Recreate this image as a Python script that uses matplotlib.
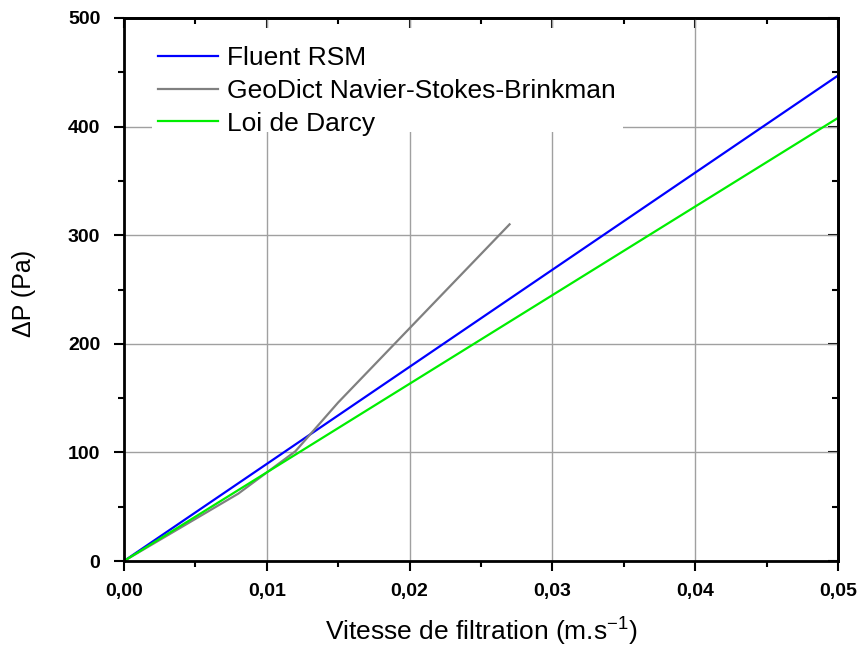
import matplotlib
matplotlib.use("Agg")
import matplotlib.pyplot as plt
from matplotlib.ticker import MultipleLocator, FuncFormatter
from matplotlib.patches import Rectangle

# Data
fluent_x = [0.0, 0.05]
fluent_y = [0.0, 447.0]
geodict_x = [0.0, 0.008, 0.012, 0.015, 0.027]
geodict_y = [0.0, 62.0, 101.0, 146.0, 310.0]
darcy_x = [0.0, 0.05]
darcy_y = [0.0, 408.0]
labels = ["Fluent RSM", "GeoDict Navier-Stokes-Brinkman", "Loi de Darcy"]

plt.rcParams["mathtext.default"] = "regular"

fig = plt.figure(figsize=(8.61, 6.52), dpi=100)
ax = fig.add_axes([124/861, 1-561/652, (838-124)/861, (561-18)/652])

ax.grid(True, which="major", color="#a0a0a0", linewidth=1.0, zorder=0)
ax.set_axisbelow(True)

# white legend background box (covers grid)
ax.add_patch(Rectangle((0.039, 0.79), 0.66, 0.192, transform=ax.transAxes,
                       facecolor="white", edgecolor="none", zorder=1.5))

l1, = ax.plot(fluent_x, fluent_y, color="#0000ff", lw=1.6, zorder=3)
l2, = ax.plot(geodict_x, geodict_y, color="#808080", lw=1.6, zorder=3)
l3, = ax.plot(darcy_x, darcy_y, color="#00ee00", lw=1.6, zorder=3)

ax.set_xlim(0, 0.05)
ax.set_ylim(0, 500)
ax.xaxis.set_major_locator(MultipleLocator(0.01))
ax.xaxis.set_minor_locator(MultipleLocator(0.005))
ax.yaxis.set_major_locator(MultipleLocator(100))
ax.yaxis.set_minor_locator(MultipleLocator(50))
ax.xaxis.set_major_formatter(FuncFormatter(lambda v, p: f"{v:.2f}".replace(".", ",")))
ax.yaxis.set_major_formatter(FuncFormatter(lambda v, p: f"{v:.0f}"))

for s in ax.spines.values():
    s.set_linewidth(2.0)
    s.set_zorder(4)

ax.tick_params(which="both", direction="out", top=False, right=False, width=1.5)
ax.tick_params(which="major", length=7)
ax.tick_params(which="minor", length=4)
axt = ax.secondary_xaxis("top")
axt.xaxis.set_major_locator(MultipleLocator(0.01))
axt.xaxis.set_minor_locator(MultipleLocator(0.005))
axt.tick_params(which="both", direction="in", labeltop=False, width=1.5)
axt.tick_params(which="major", length=7)
axt.tick_params(which="minor", length=4)
axr = ax.secondary_yaxis("right")
axr.yaxis.set_major_locator(MultipleLocator(100))
axr.yaxis.set_minor_locator(MultipleLocator(50))
axr.tick_params(which="both", direction="in", labelright=False, width=1.5)
axr.tick_params(which="major", length=7)
axr.tick_params(which="minor", length=4)
for a in (axt, axr):
    for s in a.spines.values():
        s.set_linewidth(2.0)

for t in ax.get_yticklabels() + ax.get_xticklabels():
    t.set_fontfamily(["Liberation Sans", "DejaVu Sans"])
    t.set_fontweight("bold")
    t.set_fontsize(14)
ax.tick_params(axis="x", pad=9)
ax.tick_params(axis="y", pad=10)

ax.set_xlabel("Vitesse de filtration (m.s$^{\\mathregular{-1}}$)", fontsize=19,
              family=["Liberation Sans Narrow", "Liberation Sans", "DejaVu Sans"])
ax.xaxis.set_label_coords(0.5, -(616-561)/543)
ax.set_ylabel("ΔP (Pa)", fontsize=18, family=["Liberation Sans", "DejaVu Sans"])
ax.yaxis.set_label_coords(-(124-36)/714, (561-293)/543)

leg = ax.legend([l1, l2, l3], labels, loc="upper left", bbox_to_anchor=(0.0476, 0.948),
                frameon=False, borderaxespad=0, borderpad=0,
                prop={"family": ["Liberation Sans", "DejaVu Sans"], "size": 19},
                handlelength=2.27, handletextpad=0.34, labelspacing=0.33)
leg.set_zorder(5)

fig.savefig("out.png", dpi=100)
